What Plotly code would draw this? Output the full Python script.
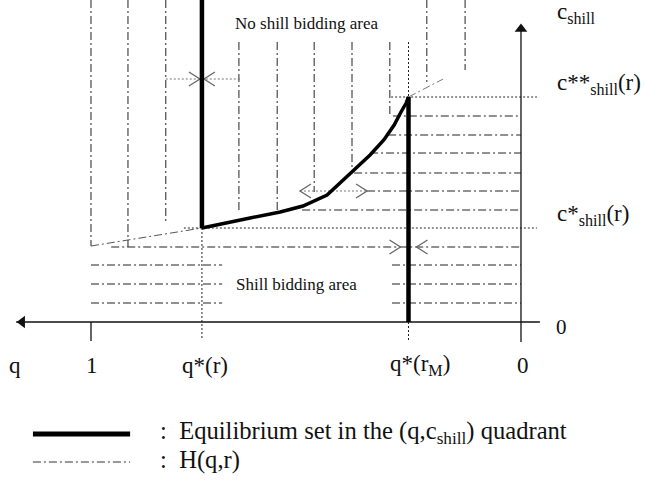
import plotly.graph_objects as go

# ---------------- data (diagram units: q on reversed x, c_shill on y) ----------------
q_star_r = 0.742
q_star_rM = 0.2616
c_star = 0.94
c_star2 = 2.25

# equilibrium curve between (q*(r), c*) and (q*(rM), c**)
curve_q = [0.742, 0.700, 0.630, 0.560, 0.507, 0.451, 0.419, 0.384, 0.351, 0.319, 0.295, 0.279, 0.267, 0.2616]
curve_c = [0.94, 0.98, 1.04, 1.10, 1.16, 1.27, 1.40, 1.54, 1.67, 1.82, 1.97, 2.10, 2.19, 2.25]

# H(q,r) segments
h_low_q = [1.0, 0.742]
h_low_c = [0.76, 0.94]
h_up_q = [0.2616, 0.181]
h_up_c = [2.25, 2.43]

# vertical hatching (no shill bidding area)
vl_left_q = [1.0, 0.914, 0.826]
vl_left_bot = [0.76, 0.75, 0.98]
vl_mid_q = [0.656, 0.567, 0.481, 0.393, 0.305]
vl_mid_bot = [1.12, 1.12, 1.30, 1.52, 2.05]
vl_mid_top = 2.80
vl_right_q = [0.219, 0.130]
vl_right_bot = [2.40, 2.52]

# horizontal hatching (shill bidding area)
hl_up_c = [2.06, 1.87, 1.69, 1.49, 1.31, 1.12]
hl_up_left = [0.298, 0.309, 0.351, 0.388, 0.358, 0.509]
hl_low_main_c = 0.75
hl_low_main_left = 0.953
hl_low_c = [0.57, 0.38, 0.19]
hl_low_seg_a = [1.0, 0.695]
hl_low_seg_b = [0.300, 0.0]

# ticks / labels
tick_labels = ["q", "1", "q*(r)", "q*(r<sub>M</sub>)", "0"]
tick_pos = [1.177, 0.998, 0.736, 0.235, -0.005]

QPX = 1 / 430.0   # q units per pixel
CPX = 1 / 100.0   # c units per pixel

TOP, BOT = 3.22, -1.73
XL, XR = 1.2116, -0.2884

DD = "8px,3px,2px,3px"
DOT = "2px,2px"
FONT = "Liberation Serif"

fig = go.Figure()


def line(xs, ys, width=1.0, dash="solid", color="#222"):
    fig.add_trace(go.Scatter(x=xs, y=ys, mode="lines", hoverinfo="skip",
                             line=dict(color=color, width=width, dash=dash)))


def chevron(q, c, right=True, color="#666"):
    s = 11 * QPX
    back = q + s if right else q - s
    h = 7 * CPX
    line([back, q, back], [c + h, c, c - h], width=1.3, color=color)


# vertical hatching
for q, b in zip(vl_left_q, vl_left_bot):
    line([q, q], [TOP, b], dash=DD)
for q, b in zip(vl_mid_q, vl_mid_bot):
    line([q, q], [vl_mid_top, b], dash=DD)
line([q_star_rM, q_star_rM], [vl_mid_top, c_star2], dash=DOT)
for q, b in zip(vl_right_q, vl_right_bot):
    line([q, q], [TOP, b], dash=DD)

# horizontal hatching
for c, l in zip(hl_up_c, hl_up_left):
    line([l, 0.0], [c, c], dash=DD)
line([hl_low_main_left, 0.0], [hl_low_main_c, hl_low_main_c], dash=DD)
for c in hl_low_c:
    line(hl_low_seg_a, [c, c], dash=DD)
    line(hl_low_seg_b, [c, c], dash=DD)

# reference dotted lines
line([0.302, -0.037], [c_star2, c_star2], dash=DOT)
line([0.784, -0.037], [c_star, c_star], dash=DOT)
line([q_star_r, q_star_r], [c_star, -0.18], dash=DOT)
line([q_star_rM, q_star_rM], [0, -0.18], dash=DOT)

# H(q,r)
line(h_low_q, h_low_c, dash=DD, color="#555")
line(h_up_q, h_up_c, dash=DD, color="#777")

# arrows (gray chevrons)
line([0.826, 0.653], [2.43, 2.43], dash=DOT, color="#777")
chevron(q_star_r + 2 * QPX, 2.43, right=True)
chevron(q_star_r - 2 * QPX, 2.43, right=False)
line([0.514, 0.358], [1.31, 1.31], dash=DOT, color="#777")
chevron(0.514, 1.31, right=False)
chevron(0.358, 1.31, right=True)
chevron(q_star_rM + 8 * QPX, 0.75, right=True)
chevron(q_star_rM - 8 * QPX, 0.75, right=False)

# axes
line([1.174, -0.044], [0, 0], width=1.3, color="#111")
line([0, 0], [-0.20, 2.94], width=1.3, color="#111")
line([1.0, 1.0], [0, -0.19], width=1.3, color="#111")
fig.add_trace(go.Scatter(x=[1.16], y=[0], mode="markers", hoverinfo="skip",
                         marker=dict(symbol="triangle-left", size=11, color="#111")))
fig.add_trace(go.Scatter(x=[0], y=[2.93], mode="markers", hoverinfo="skip",
                         marker=dict(symbol="triangle-up", size=11, color="#111")))

# equilibrium set (thick)
line([q_star_r, q_star_r], [TOP, c_star], width=4.5, color="#000")
line(curve_q, curve_c, width=3.5, color="#000")
line([q_star_rM, q_star_rM], [c_star2, 0], width=4.5, color="#000")

# legend
line([1.135, 0.909], [-1.12, -1.12], width=5, color="#000")
line([1.135, 0.909], [-1.40, -1.40], dash=DD, color="#333")

ann = []


def text(x, y, t, size=17, xanchor="center", color="#111"):
    ann.append(dict(x=x, y=y, xref="x", yref="y", text=t, showarrow=False,
                    xanchor=xanchor, yanchor="middle",
                    font=dict(family=FONT, size=size, color=color)))


text(0.498, 2.99, "No shill bidding area", size=17)
text(0.523, 0.38, "Shill bidding area", size=17)
text(-0.079, 3.09, "c<sub>shill</sub>", size=23, xanchor="left")
text(-0.079, 2.38, "c**<sub>shill</sub>(r)", size=23, xanchor="left")
text(-0.079, 1.07, "c*<sub>shill</sub>(r)", size=23, xanchor="left")
text(-0.095, -0.05, "0", size=21)
for lab, p in zip(tick_labels, tick_pos):
    text(p, -0.43, lab, size=23)
text(0.8445, -1.10, ":  Equilibrium set in the (q,c<sub>shill</sub>) quadrant", size=24.6, xanchor="left")
text(0.8445, -1.38, ":  H(q,r)", size=24.6, xanchor="left")

fig.update_layout(
    width=645, height=495, margin=dict(l=0, r=0, t=0, b=0),
    paper_bgcolor="white", plot_bgcolor="white", showlegend=False,
    xaxis=dict(range=[XL, XR], visible=False, fixedrange=True),
    yaxis=dict(range=[BOT, TOP], visible=False, fixedrange=True),
    annotations=ann,
)

fig.write_html("out.html", config={"displayModeBar": False},
               post_script="document.body.style.margin='0';")
